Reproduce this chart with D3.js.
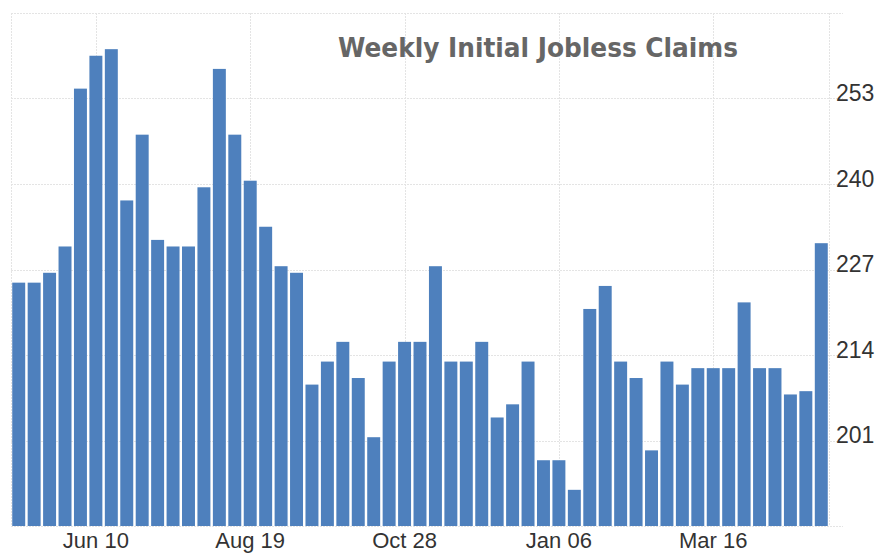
<!DOCTYPE html>
<html>
<head>
<meta charset="utf-8">
<script src="https://cdn.jsdelivr.net/npm/d3@7"></script>
<style>
  html, body { margin: 0; padding: 0; background: #fff; }
  svg { display: block; }
</style>
</head>
<body>
<div id="chart"></div>
<script>
// weekly initial jobless claims (thousands)
var claims = [225, 225, 226.5, 230.5, 254.5, 259.5, 260.5, 237.5, 247.5, 231.5,
    230.5, 230.5, 239.5, 257.5, 247.5, 240.5, 233.5, 227.5, 226.5, 209.5,
    213, 216, 210.5, 201.5, 213, 216, 216, 227.5, 213, 213,
    216, 204.5, 206.5, 213, 198, 198, 193.5, 221, 224.5, 213,
    210.5, 199.5, 213, 209.5, 212, 212, 212, 222, 212, 212,
    208, 208.5, 231];
var weeks = d3.range(claims.length);
var tickWeeks = [5, 15, 25, 35, 45];
var tickLabels = ["Jun 10", "Aug 19", "Oct 28", "Jan 06", "Mar 16"];
var yTicks = [201, 214, 227, 240, 253];
var yDomain = [188, 266];
var title = "Weekly Initial Jobless Claims";

var W = 877, H = 556;
var plotLeft = 11, plotRight = 829, plotTop = 13, plotBottom = 526;

var svg = d3.select("#chart").append("svg")
    .attr("width", W)
    .attr("height", H);

var x = d3.scaleBand()
    .domain(weeks)
    .range([plotLeft, plotRight])
    .paddingInner(0.16)
    .paddingOuter(0.08);

var y = d3.scaleLinear()
    .domain(yDomain)
    .range([plotBottom, plotTop]);

// grid
var grid = svg.append("g")
    .attr("stroke", "#e4e4e4")
    .attr("stroke-width", 1)
    .attr("stroke-dasharray", "2,1");

grid.selectAll(".hgrid")
    .data(yTicks.concat(yDomain))
    .enter().append("line")
    .attr("x1", plotLeft)
    .attr("x2", 843)
    .attr("y1", function(d) { return Math.round(y(d)) + 0.5; })
    .attr("y2", function(d) { return Math.round(y(d)) + 0.5; });

grid.selectAll(".vgrid")
    .data(tickWeeks)
    .enter().append("line")
    .attr("x1", function(d) { return Math.round(x(d) + x.bandwidth() / 2) + 0.5; })
    .attr("x2", function(d) { return Math.round(x(d) + x.bandwidth() / 2) + 0.5; })
    .attr("y1", plotTop)
    .attr("y2", plotBottom);

grid.selectAll(".edge")
    .data([plotLeft, plotRight])
    .enter().append("line")
    .attr("x1", function(d) { return d + 0.5; })
    .attr("x2", function(d) { return d + 0.5; })
    .attr("y1", plotTop)
    .attr("y2", plotBottom);

// bars
svg.append("g").selectAll("rect")
    .data(claims)
    .enter().append("rect")
    .attr("x", function(d, i) { return x(i); })
    .attr("width", x.bandwidth())
    .attr("y", function(d) { return y(d); })
    .attr("height", function(d) { return plotBottom - y(d); })
    .attr("fill", "#4e80bd");

// right axis
var yAxis = svg.append("g")
    .attr("transform", "translate(" + (plotRight + 7) + ",0)")
    .call(d3.axisRight(y).tickValues(yTicks).tickSize(0).tickPadding(0));
yAxis.select(".domain").remove();
yAxis.selectAll("text")
    .attr("dy", "0.1em")
    .style("font-family", "'Liberation Sans', Arial, sans-serif")
    .style("font-size", "23px")
    .style("fill", "#333");

// bottom axis
var xAxis = svg.append("g")
    .attr("transform", "translate(0," + plotBottom + ")")
    .call(d3.axisBottom(x).tickValues(tickWeeks)
        .tickFormat(function(d) { return tickLabels[tickWeeks.indexOf(d)]; })
        .tickSize(0).tickPadding(6));
xAxis.select(".domain").remove();
xAxis.selectAll("text")
    .style("font-family", "'Liberation Sans', Arial, sans-serif")
    .style("font-size", "22px")
    .style("fill", "#333");

// title
svg.append("text")
    .attr("x", 338)
    .attr("y", 57)
    .attr("textLength", 400)
    .attr("lengthAdjust", "spacingAndGlyphs")
    .style("font-family", "'DejaVu Sans', Verdana, sans-serif")
    .style("font-weight", "bold")
    .style("font-size", "27px")
    .style("fill", "#666")
    .text(title);
</script>
</body>
</html>
